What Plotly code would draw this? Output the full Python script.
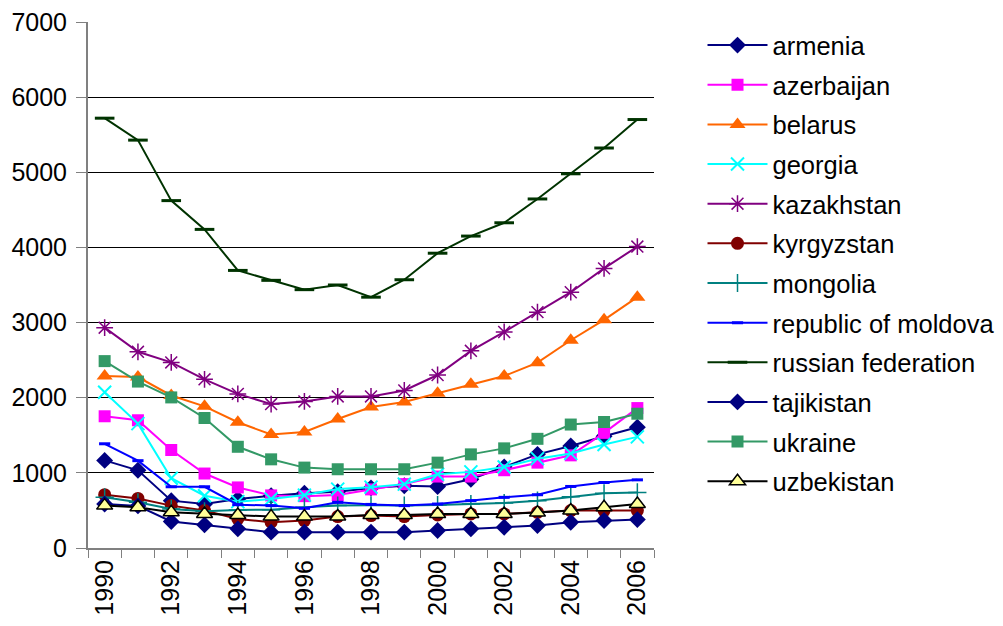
import plotly.graph_objects as go

years = list(range(1990, 2007))

armenia = [1166, 1034, 630, 585, 651, 696, 730, 749, 800, 828, 819, 915, 1079, 1246, 1357, 1488, 1607]
azerbaijan = [1753, 1700, 1304, 991, 806, 700, 690, 704, 780, 850, 951, 951, 1035, 1136, 1233, 1532, 1862]
belarus = [2289, 2275, 2030, 1885, 1674, 1510, 1545, 1717, 1876, 1942, 2060, 2179, 2289, 2466, 2765, 3036, 3338]
georgia = [2073, 1655, 929, 696, 617, 651, 704, 784, 810, 850, 982, 1013, 1079, 1189, 1259, 1378, 1479]
kazakhstan = [2932, 2611, 2470, 2245, 2051, 1915, 1951, 2017, 2017, 2096, 2302, 2624, 2875, 3139, 3404, 3721, 4011]
kyrgyzstan = [710, 660, 564, 498, 387, 343, 365, 418, 431, 418, 440, 453, 453, 475, 498, 498, 498]
mongolia = [674, 608, 520, 489, 506, 510, 542, 564, 568, 564, 572, 585, 599, 630, 683, 727, 740]
moldova = [1387, 1162, 815, 815, 577, 564, 528, 608, 580, 564, 585, 630, 674, 709, 819, 872, 907]
russia = [5720, 5428, 4623, 4240, 3694, 3562, 3438, 3500, 3338, 3570, 3923, 4151, 4328, 4645, 4980, 5323, 5702]
tajikistan = [585, 560, 353, 308, 255, 211, 211, 211, 211, 211, 233, 255, 277, 299, 343, 365, 378]
ukraine = [2487, 2215, 2004, 1730, 1347, 1180, 1070, 1048, 1048, 1048, 1136, 1246, 1326, 1453, 1643, 1677, 1787]
uzbekistan = [564, 542, 475, 453, 440, 418, 418, 420, 440, 440, 453, 453, 453, 471, 498, 542, 585]

series = [
    ("armenia", armenia, "#000080", dict(symbol="diamond", size=13, color="#000080")),
    ("azerbaijan", azerbaijan, "#FF00FF", dict(symbol="square", size=12, color="#FF00FF")),
    ("belarus", belarus, "#FF6600", dict(symbol="triangle-up", size=14, color="#FF6600")),
    ("georgia", georgia, "#00FFFF", dict(symbol="x-thin-open", size=13, line=dict(color="#00FFFF", width=2))),
    ("kazakhstan", kazakhstan, "#800080", dict(symbol="asterisk-open", size=14, line=dict(color="#800080", width=1.5))),
    ("kyrgyzstan", kyrgyzstan, "#800000", dict(symbol="circle", size=13, color="#800000")),
    ("mongolia", mongolia, "#008080", dict(symbol="cross-thin-open", size=13, line=dict(color="#008080", width=1.5))),
    ("republic of moldova", moldova, "#0000FF", dict(symbol="line-ew-open", size=8, line=dict(color="#0000FF", width=3))),
    ("russian federation", russia, "#003300", dict(symbol="line-ew-open", size=14, line=dict(color="#003300", width=3))),
    ("tajikistan", tajikistan, "#000080", dict(symbol="diamond", size=13, color="#000080")),
    ("ukraine", ukraine, "#339966", dict(symbol="square", size=12, color="#339966")),
    ("uzbekistan", uzbekistan, "#000000", dict(symbol="triangle-up", size=14, color="#FFFF99", line=dict(color="#000000", width=1.5))),
]

fig = go.Figure()
for name, vals, col, mk in series:
    fig.add_trace(go.Scatter(x=years, y=vals, name=name, mode="lines+markers", legendgroup=name,
                             line=dict(color=col, width=2), marker=mk))

fig.update_layout(
    width=1003, height=626,
    margin=dict(l=80, r=351, t=14, b=86),
    plot_bgcolor="white", paper_bgcolor="white",
    font=dict(family="Liberation Sans, Arial, sans-serif", size=25, color="black"),
    legend=dict(x=1.0857, y=1.0, xanchor="left", yanchor="top", font=dict(size=25.5),
                tracegroupgap=3.5, itemwidth=60, maxheight=600, bgcolor="rgba(0,0,0,0)"),
)
fig.update_yaxes(range=[0, 7000], dtick=1000, showgrid=True, gridcolor="black", gridwidth=1,
                 showline=True, linecolor="#808080", linewidth=2, ticks="outside", ticklen=10,
                 tickcolor="#808080", zeroline=False, automargin=False, ticklabeloverflow="allow",
                 ticklabelstandoff=4)
fig.update_xaxes(range=[1989.5, 2006.5], tickvals=years[::2], tickangle=-90, showgrid=False,
                 showline=True, linecolor="#808080", linewidth=2, ticks="",
                 minor=dict(ticks="outside", tick0=1989.5, dtick=1, ticklen=8, tickcolor="#808080", showgrid=False),
                 zeroline=False, automargin=False, ticklabeloverflow="allow")

fig.write_html("out.html")
